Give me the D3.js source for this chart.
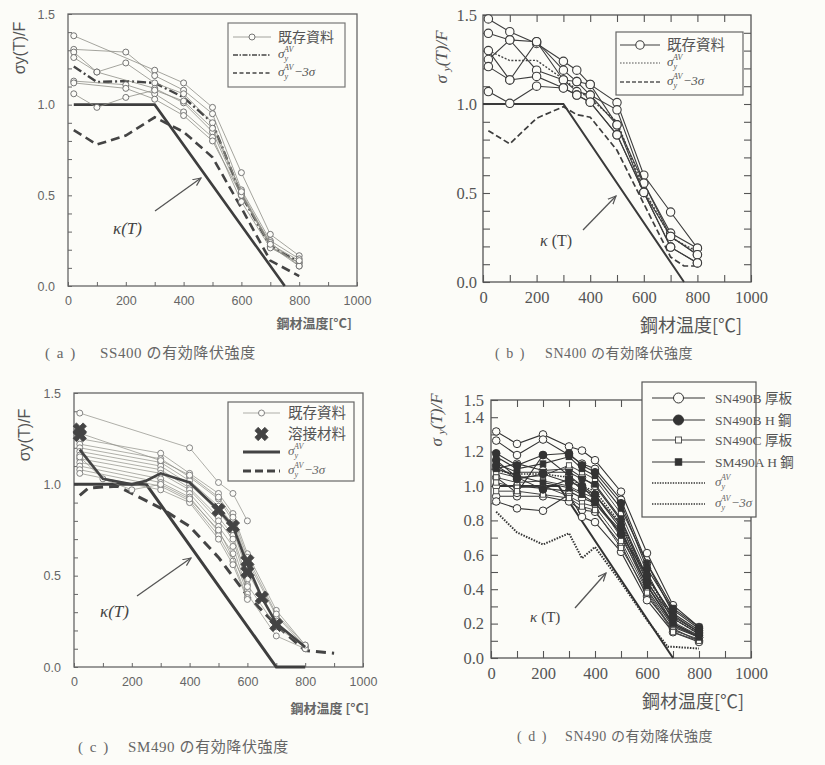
<!DOCTYPE html>
<html>
<head>
<meta charset="utf-8">
<script src="https://cdn.jsdelivr.net/npm/d3@7"></script>
<style>
  body { margin: 0; background: #fcfcf8; }
  svg { display: block; }
</style>
</head>
<body>
<script>
// ---------- (a) SS400 ----------
var tempsA = [20, 100, 200, 300, 400, 500, 600, 700, 800];
var existingA = [
  [1.38, null, null, 1.19, 1.12, 0.985, 0.625, 0.285, 0.167],
  [1.305, null, 1.29, 1.16, 1.08, 0.95, 0.53, 0.25, 0.15],
  [1.29, 1.18, 1.23, 1.12, 1.06, 0.90, 0.51, 0.22, 0.125],
  [1.26, 1.18, null, 1.09, 1.01, 0.85, 0.50, 0.22, 0.11],
  [1.13, null, 1.11, 1.06, 0.96, 0.82, 0.465, 0.21, 0.13],
  [1.12, null, 1.09, 1.03, 0.94, 0.80, 0.50, 0.24, 0.11],
  [1.06, 0.985, 1.04, 1.08, 1.02, 0.87, 0.52, 0.23, 0.14]
];
var avgA = [1.21, 1.125, 1.13, 1.12, 1.04, 0.90, 0.50, 0.22, 0.13];
var minusA = [0.86, 0.78, 0.83, 0.93, 0.85, 0.71, 0.43, 0.14, 0.055];
var kappaTempsA = [20, 300, 750];
var kappaA = [1, 1, 0];

// ---------- (b) SN400 ----------
var tempsB = [20, 100, 200, 300, 350, 400, 500, 600, 700, 800];
var existingB = [
  [1.478, 1.406, 1.34, 1.24, 1.19, 1.11, 1.008, 0.60, 0.393, 0.19],
  [1.397, 1.36, 1.35, 1.19, 1.126, 1.05, 0.967, 0.555, 0.275, 0.19],
  [1.30, 1.135, 1.35, 1.135, 1.07, 1.05, 0.883, 0.555, 0.256, 0.153],
  [1.25, 1.36, 1.19, 1.135, 1.126, 1.11, 0.883, 0.503, 0.256, 0.153],
  [1.21, 1.135, 1.155, 1.09, 1.05, 1.01, 0.827, 0.503, 0.196, 0.107],
  [1.07, 1.004, 1.10, 1.09, 1.05, 1.01, 0.827, 0.503, 0.196, 0.107]
];
var avgB = [1.30, 1.244, 1.245, 1.14, 1.08, 1.03, 0.90, 0.52, 0.25, 0.17];
var minusTempsB = [20, 100, 200, 300, 350, 400, 500, 600, 700, 750, 800];
var minusB = [0.85, 0.776, 0.92, 0.985, 0.94, 0.926, 0.74, 0.44, 0.14, 0.09, 0.09];
var kappaTempsB = [0, 300, 750];
var kappaB = [1, 1, 0];

// ---------- (c) SM490 ----------
var tempsC = [20, 100, 200, 300, 400, 500, 550, 600, 700, 800];
var existingC = [
  [1.39, null, null, null, 1.20, 1.01, 0.95, 0.80, null, null],
  [1.25, null, null, 1.17, 1.06, 0.95, 0.84, 0.62, 0.31, 0.12],
  [1.22, null, null, 1.14, 1.04, 0.92, 0.80, 0.58, 0.28, 0.11],
  [1.20, null, null, 1.12, 1.02, 0.88, 0.78, 0.55, null, null],
  [1.18, null, null, 1.10, 1.00, 0.85, 0.75, 0.52, 0.24, 0.10],
  [1.16, null, null, 1.08, 0.98, 0.82, 0.72, 0.48, null, null],
  [1.14, null, null, 1.06, 0.97, 0.80, 0.70, 0.45, 0.22, 0.11],
  [1.12, null, null, 1.03, 0.95, 0.77, 0.66, 0.42, null, null],
  [1.10, null, null, 1.01, 0.93, 0.74, 0.62, 0.40, 0.17, 0.10],
  [1.08, null, null, 0.99, 0.91, 0.72, 0.58, 0.38, null, null],
  [1.06, null, null, 0.97, 0.90, 0.70, 0.56, 0.37, null, null],
  [1.15, 1.03, 0.97, 1.00, 0.92, 0.75, null, 0.44, null, null],
  [1.28, null, null, 1.13, 1.05, 0.93, 0.82, 0.60, 0.29, 0.12]
];
var weldTempsC = [20, 20, 500, 550, 600, 600, 650, 700];
var weldC = [1.30, 1.27, 0.86, 0.77, 0.58, 0.52, 0.38, 0.23];
var avgTempsC = [20, 100, 200, 250, 300, 400, 500, 550, 600, 650, 700, 800];
var avgC = [1.19, 1.03, 1.0, 1.02, 1.06, 1.01, 0.86, 0.77, 0.56, 0.38, 0.24, 0.11];
var minusTempsC = [20, 50, 150, 200, 300, 400, 500, 600, 700, 800, 900];
var minusC = [0.94, 0.98, 0.99, 0.95, 0.87, 0.77, 0.60, 0.39, 0.23, 0.09, 0.075];
var kappaTempsC = [0, 250, 700, 800];
var kappaC = [1, 1, 0, 0];

// ---------- (d) SN490 ----------
var tempsD = [20, 100, 200, 300, 350, 400, 500, 600, 700, 800];
var plateB = [   // SN490B 厚板
  [1.317, 1.245, 1.30, 1.23, 1.206, 1.15, 0.967, 0.61, 0.307, 0.18],
  [1.264, 1.18, 1.27, 1.18, 1.13, 1.10, 0.92, 0.55, 0.26, 0.16],
  [1.10, 1.13, 1.09, 1.10, 1.05, 1.00, 0.80, 0.45, 0.20, 0.13],
  [1.00, 1.00, 0.986, 0.97, 0.93, 0.90, 0.72, 0.40, 0.18, 0.12],
  [0.94, 0.94, 0.94, 0.91, 0.86, 0.85, 0.66, 0.36, 0.17, 0.10],
  [0.91, 0.87, 0.856, 0.95, 0.82, 0.79, 0.617, 0.336, 0.15, 0.093],
  [1.05, 0.96, 1.18, 1.06, 1.00, 0.95, 0.75, 0.42, 0.19, 0.12]
];
var hBeamB = [   // SN490B H鋼
  [1.19, 1.12, 1.18, 1.19, 1.12, 1.08, 0.90, 0.52, 0.28, 0.17],
  [1.15, 1.05, 0.98, 1.04, 0.98, 0.95, 0.77, 0.44, 0.23, 0.14],
  [1.12, 1.04, 1.07, 1.02, 1.00, 0.92, 0.72, 0.48, 0.24, 0.15]
];
var plateC = [   // SN490C 厚板
  [1.08, 1.05, 1.06, 1.12, 1.08, 1.04, 0.84, 0.50, 0.21, 0.13],
  [1.05, 1.02, 1.03, 1.00, 0.96, 0.93, 0.70, 0.43, 0.19, 0.12],
  [1.02, 0.99, 1.00, 0.94, 0.90, 0.88, 0.68, 0.39, 0.16, 0.11],
  [0.97, 0.97, 0.95, 0.93, 0.88, 0.86, 0.64, 0.38, 0.15, 0.10]
];
var hBeamA = [   // SM490A H鋼
  [1.17, 1.10, 1.13, 1.17, 1.10, 1.06, 0.87, 0.55, 0.29, 0.18],
  [1.13, 1.08, 1.08, 1.08, 1.04, 1.01, 0.81, 0.47, 0.25, 0.15],
  [1.10, 1.06, 1.02, 0.99, 0.95, 0.90, 0.74, 0.42, 0.20, 0.12]
];
var avgD = [1.09, 1.07, 1.07, 1.05, 1.00, 0.97, 0.78, 0.47, 0.23, 0.14];
var minusTempsD = [20, 100, 200, 300, 350, 400, 500, 600, 680, 700, 800];
var minusD = [0.85, 0.73, 0.66, 0.725, 0.58, 0.645, 0.44, 0.22, 0.065, 0.065, 0.055];
var kappaTempsD = [20, 260, 700];
var kappaD = [1, 1, 0];

// ---------- drawing ----------
var BG = '#fcfcf8';
var SANS = '"Liberation Sans", Arial, "Noto Sans CJK JP", sans-serif';
var SERIF = '"Liberation Serif", "DejaVu Serif", "Noto Sans CJK JP", serif';
var CJK = '"Noto Sans CJK JP", sans-serif';

var svg = d3.select('body').append('svg')
  .attr('width', 825)
  .attr('height', 765);

svg.append('defs').append('marker')
  .attr('id', 'arrow')
  .attr('viewBox', '0 -5 10 10')
  .attr('refX', 9)
  .attr('markerWidth', 9)
  .attr('markerHeight', 9)
  .attr('markerUnits', 'userSpaceOnUse')
  .attr('orient', 'auto')
  .append('path')
    .attr('d', 'M0,-4L9,0L0,4')
    .attr('fill', 'none')
    .attr('stroke', '#555')
    .attr('stroke-width', 1.3);

function pairs(ts, vs) {
  return ts.map((t, i) => [t, vs[i]]).filter(p => p[1] != null);
}

function frame(cfg) {
  var g = svg.append('g');
  var x = d3.scaleLinear().domain([0, 1000]).range([cfg.left, cfg.right]);
  var y = d3.scaleLinear().domain([0, 1.5]).range([cfg.bottom, cfg.top]);
  var xt = d3.range(0, 11).map(v => v * 100);
  var yt = d3.range(0, 16).map(v => v / 10);

  g.append('g')
    .attr('transform', `translate(0,${cfg.bottom})`)
    .call(d3.axisBottom(x).tickValues(xt).tickSize(-cfg.tick).tickPadding(cfg.xpad)
      .tickFormat(v => v % 200 === 0 ? String(v) : ''));
  g.append('g')
    .attr('transform', `translate(${cfg.left},0)`)
    .call(d3.axisLeft(y).tickValues(yt).tickSize(-cfg.tick).tickPadding(cfg.ypad)
      .tickFormat(v => cfg.ylabels.some(l => Math.abs(l - v) < 1e-6) ? v.toFixed(1) : ''));
  if (cfg.allSides) {
    g.append('g')
      .attr('transform', `translate(0,${cfg.top})`)
      .call(d3.axisTop(x).tickValues(xt.slice(1, -1)).tickSize(-cfg.tick).tickFormat(''));
    g.append('g')
      .attr('transform', `translate(${cfg.right},0)`)
      .call(d3.axisRight(y).tickValues(yt.slice(1, -1)).tickSize(-cfg.tick).tickFormat(''));
  }
  g.selectAll('.domain').remove();
  g.selectAll('.tick line').attr('stroke', cfg.axisColor).attr('stroke-width', cfg.tickWidth);
  g.selectAll('.tick text')
    .attr('font-family', cfg.font)
    .attr('font-size', cfg.fontSize)
    .attr('fill', cfg.textColor);

  g.append('rect')
    .attr('x', cfg.left).attr('y', cfg.top)
    .attr('width', cfg.right - cfg.left).attr('height', cfg.bottom - cfg.top)
    .attr('fill', 'none')
    .attr('stroke', cfg.axisColor)
    .attr('stroke-width', cfg.boxWidth);

  var plot = g.append('g');
  return { g: g, plot: plot, x: x, y: y };
}

function drawMarkers(g, pts, x, y, st) {
  if (!st.marker) return;
  var m = g.append('g');
  if (st.marker === 'circle' || st.marker === 'dot') {
    m.selectAll('circle').data(pts).enter().append('circle')
      .attr('cx', d => x(d[0])).attr('cy', d => y(d[1]))
      .attr('r', st.r)
      .attr('fill', st.marker === 'dot' ? st.mcolor : BG)
      .attr('stroke', st.mcolor)
      .attr('stroke-width', st.mwidth);
  } else if (st.marker === 'square' || st.marker === 'fsquare') {
    m.selectAll('rect').data(pts).enter().append('rect')
      .attr('x', d => x(d[0]) - st.r).attr('y', d => y(d[1]) - st.r)
      .attr('width', st.r * 2).attr('height', st.r * 2)
      .attr('fill', st.marker === 'fsquare' ? st.mcolor : BG)
      .attr('stroke', st.mcolor)
      .attr('stroke-width', st.mwidth);
  } else if (st.marker === 'cross') {
    m.selectAll('path').data(pts).enter().append('path')
      .attr('d', d3.symbol().type(d3.symbolCross).size(st.r * st.r))
      .attr('transform', d => `translate(${x(d[0])},${y(d[1])}) rotate(45)`)
      .attr('fill', st.mcolor)
      .attr('stroke', st.mcolor)
      .attr('stroke-width', 0.8);
  }
}

function series(p, ts, vs, st) {
  var pts = pairs(ts, vs);
  var line = d3.line().x(d => p.x(d[0])).y(d => p.y(d[1]));
  if (st.width > 0) {
    p.plot.append('path')
      .datum(pts)
      .attr('fill', 'none')
      .attr('stroke', st.color)
      .attr('stroke-width', st.width)
      .attr('stroke-dasharray', st.dash || null)
      .attr('d', line);
  }
  drawMarkers(p.plot, pts, p.x, p.y, st);
}

function sampleLine(g, x1, x2, yy, st) {
  if (st.width > 0) {
    g.append('line')
      .attr('x1', x1).attr('x2', x2).attr('y1', yy).attr('y2', yy)
      .attr('stroke', st.color)
      .attr('stroke-width', st.width)
      .attr('stroke-dasharray', st.dash || null);
  }
  drawMarkers(g, [[(x1 + x2) / 2, yy]], v => v, v => v, st);
}

function plainText(g, x, y, str, size, color, family, anchor) {
  return g.append('text')
    .attr('x', x).attr('y', y)
    .attr('font-family', family)
    .attr('font-size', size)
    .attr('fill', color)
    .attr('text-anchor', anchor || 'start')
    .text(str);
}

function sigmaLabel(g, x, y, size, color, suffix) {
  var t = g.append('text')
    .attr('x', x).attr('y', y)
    .attr('font-family', SERIF)
    .attr('font-size', size)
    .attr('fill', color)
    .attr('font-style', 'italic');
  t.append('tspan').text('σ');
  t.append('tspan').attr('font-size', size * 0.62).attr('dy', size * 0.25).text('y');
  t.append('tspan').attr('font-size', size * 0.62).attr('dx', -size * 0.3).attr('dy', -size * 0.72).text('AV');
  if (suffix) {
    t.append('tspan').attr('dy', size * 0.47).attr('dx', size * 0.1).attr('font-style', 'normal').text('−');
    t.append('tspan').text('3σ');
  }
}

function legendBox(g, x1, y1, x2, y2, color) {
  g.append('rect')
    .attr('x', x1).attr('y', y1).attr('width', x2 - x1).attr('height', y2 - y1)
    .attr('fill', BG)
    .attr('stroke', color)
    .attr('stroke-width', 1.2);
}

function arrow(g, x1, y1, x2, y2) {
  g.append('line')
    .attr('x1', x1).attr('y1', y1).attr('x2', x2).attr('y2', y2)
    .attr('stroke', '#555')
    .attr('stroke-width', 1.3)
    .attr('marker-end', 'url(#arrow)');
}

function kappaText(g, x, y, size, italic, gap) {
  var t = g.append('text')
    .attr('x', x).attr('y', y)
    .attr('font-family', SERIF)
    .attr('font-size', size)
    .attr('fill', '#444');
  t.append('tspan').attr('font-style', 'italic').text('κ');
  t.append('tspan').attr('font-style', italic ? 'italic' : 'normal').attr('dx', gap).text('(T)');
}

function yTitle(g, x, y, size, family, italic, spaced) {
  var t = g.append('text')
    .attr('transform', `translate(${x},${y}) rotate(-90)`)
    .attr('text-anchor', 'middle')
    .attr('font-family', family)
    .attr('font-size', size)
    .attr('fill', '#555')
    .attr('font-style', italic ? 'italic' : 'normal');
  t.append('tspan').text('σ');
  if (spaced) {
    t.append('tspan').attr('font-size', size * 0.65).attr('dx', 4).attr('dy', 3).text('y');
    t.append('tspan').attr('dy', -3).text('(T)/F');
  } else {
    t.append('tspan').text('y(T)/F');
  }
}

function caption(g, x1, x2, y, tag, str, size) {
  plainText(g, x1, y, tag, size, '#666', SERIF).attr('letter-spacing', 1.5);
  plainText(g, x2, y, str, size, '#666', SERIF).attr('letter-spacing', 0.6);
}

// ===== panel (a) =====
var pa = frame({ left: 68, right: 357, top: 14, bottom: 286, tick: 4, xpad: 10, ypad: 13,
  ylabels: [0, 0.5, 1.0, 1.5], allSides: false, axisColor: '#666', tickWidth: 1, boxWidth: 1.3,
  font: SANS, fontSize: 12.5, textColor: '#666' });
var stExA = { color: '#8e8e86', width: 0.8, marker: 'circle', r: 3, mcolor: '#666', mwidth: 0.9 };
var stAvgA = { color: '#444', width: 2.4, dash: '9,3,2,3' };
var stMinA = { color: '#444', width: 2.6, dash: '9,5' };
var stKapA = { color: '#3e3e3e', width: 2.6 };
series(pa, kappaTempsA, kappaA, stKapA);
series(pa, tempsA, minusA, stMinA);
series(pa, tempsA, avgA, stAvgA);
existingA.forEach(s => series(pa, tempsA, s, stExA));
legendBox(pa.g, 228, 23, 345, 87, '#777');
sampleLine(pa.g, 233, 271, 37, stExA);
plainText(pa.g, 278, 42, '既存資料', 14, '#555', CJK);
sampleLine(pa.g, 233, 271, 55, { color: '#444', width: 1.6, dash: '5,1.5,1.5,1.5' });
sigmaLabel(pa.g, 278, 58, 13, '#555', false);
sampleLine(pa.g, 233, 271, 73, { color: '#444', width: 1.6, dash: '4,2.5' });
sigmaLabel(pa.g, 278, 76, 13, '#555', true);
arrow(pa.g, 155, 211, 201, 178);
kappaText(pa.g, 113, 234, 17, true, 0);
yTitle(pa.g, 25, 48, 16, SANS, false, false);
plainText(pa.g, 352, 328, '鋼材温度[°C]', 13, '#666', CJK, 'end').attr('font-weight', 'bold');
caption(pa.g, 45, 100, 358, '( a )', 'SS400 の有効降伏強度', 15);

// ===== panel (b) =====
var pb = frame({ left: 483, right: 751, top: 15, bottom: 282, tick: 7, xpad: 9, ypad: 6,
  ylabels: [0, 0.5, 1.0, 1.5], allSides: true, axisColor: '#555', tickWidth: 1.1, boxWidth: 1.3,
  font: SERIF, fontSize: 16.5, textColor: '#555' });
var stExB = { color: '#3d3d3d', width: 1.1, marker: 'circle', r: 4.2, mcolor: '#3d3d3d', mwidth: 1.1 };
var stAvgB = { color: '#444', width: 1.4, dash: '2,1.6' };
var stMinB = { color: '#3d3d3d', width: 1.7, dash: '6,3' };
var stKapB = { color: '#3a3a3a', width: 2 };
series(pb, kappaTempsB, kappaB, stKapB);
series(pb, minusTempsB, minusB, stMinB);
series(pb, tempsB, avgB, stAvgB);
existingB.forEach(s => series(pb, tempsB, s, stExB));
legendBox(pb.g, 616, 32, 743, 95, '#666');
sampleLine(pb.g, 620, 660, 45, stExB);
plainText(pb.g, 667, 50, '既存資料', 14.5, '#555', CJK);
sampleLine(pb.g, 620, 660, 63, { color: '#555', width: 1.2, dash: '1.6,1.4' });
sigmaLabel(pb.g, 667, 66, 13, '#555', false);
sampleLine(pb.g, 620, 660, 82, { color: '#555', width: 1.3, dash: '4,2' });
sigmaLabel(pb.g, 667, 85, 13, '#555', true);
arrow(pb.g, 583, 230, 616, 196);
kappaText(pb.g, 540, 246, 16, false, 4);
yTitle(pb.g, 447, 57, 17, SERIF, true, true);
plainText(pb.g, 691, 332, '鋼材温度[℃]', 18, '#555', CJK, 'middle');
caption(pb.g, 495, 545, 358, '( b )', 'SN400 の有効降伏強度', 14);

// ===== panel (c) =====
var pc = frame({ left: 74, right: 363, top: 393, bottom: 667, tick: 4, xpad: 10, ypad: 13,
  ylabels: [0, 0.5, 1.0, 1.5], allSides: false, axisColor: '#666', tickWidth: 1, boxWidth: 1.3,
  font: SANS, fontSize: 12.5, textColor: '#666' });
var stExC = { color: '#8e8e86', width: 0.7, marker: 'circle', r: 3, mcolor: '#777', mwidth: 0.9 };
var stWeldC = { width: 0, marker: 'cross', r: 10.5, mcolor: '#444' };
var stAvgC = { color: '#444', width: 2.6 };
var stMinC = { color: '#444', width: 3, dash: '10,6' };
var stKapC = { color: '#3e3e3e', width: 3 };
series(pc, kappaTempsC, kappaC, stKapC);
series(pc, minusTempsC, minusC, stMinC);
existingC.forEach(s => series(pc, tempsC, s, stExC));
series(pc, avgTempsC, avgC, stAvgC);
series(pc, weldTempsC, weldC, stWeldC);
legendBox(pc.g, 228, 402, 354, 481, '#666');
sampleLine(pc.g, 243, 280, 413, stExC);
plainText(pc.g, 288, 418, '既存資料', 14.5, '#555', CJK);
sampleLine(pc.g, 243, 280, 434, stWeldC);
plainText(pc.g, 288, 439, '溶接材料', 14.5, '#555', CJK);
sampleLine(pc.g, 243, 280, 452, { color: '#444', width: 3 });
sigmaLabel(pc.g, 288, 455, 13, '#666', false);
sampleLine(pc.g, 243, 280, 471, { color: '#444', width: 3.2, dash: '8,4' });
sigmaLabel(pc.g, 288, 474, 13, '#666', true);
arrow(pc.g, 137, 596, 191, 558);
kappaText(pc.g, 100, 617, 17, true, 0);
yTitle(pc.g, 30, 435, 16, SANS, false, false);
plainText(pc.g, 369, 713, '鋼材温度 [°C]', 13, '#666', CJK, 'end').attr('font-weight', 'bold');
caption(pc.g, 78, 128, 752, '( c )', 'SM490 の有効降伏強度', 15);

// ===== panel (d) =====
var pd = frame({ left: 491, right: 751, top: 400, bottom: 658, tick: 7, xpad: 9, ypad: 7,
  ylabels: [0, 0.2, 0.4, 0.6, 0.8, 1.0, 1.2, 1.4, 1.5], allSides: true, axisColor: '#555', tickWidth: 1.1,
  boxWidth: 1.3, font: SERIF, fontSize: 16.5, textColor: '#555' });
var stPlateB = { color: '#333', width: 1.1, marker: 'circle', r: 3.8, mcolor: '#333', mwidth: 1 };
var stHBeamB = { color: '#333', width: 1.1, marker: 'dot', r: 3.8, mcolor: '#333', mwidth: 1 };
var stPlateC = { color: '#444', width: 1, marker: 'square', r: 2.6, mcolor: '#444', mwidth: 0.9 };
var stHBeamA = { color: '#333', width: 1.1, marker: 'fsquare', r: 2.8, mcolor: '#333', mwidth: 1 };
var stAvgD = { color: '#333', width: 1.5, dash: '1.5,1.3' };
var stMinD = { color: '#333', width: 2, dash: '1.5,1.3' };
var stKapD = { color: '#333', width: 2 };
series(pd, kappaTempsD, kappaD, stKapD);
series(pd, minusTempsD, minusD, stMinD);
series(pd, tempsD, avgD, stAvgD);
plateB.forEach(s => series(pd, tempsD, s, stPlateB));
plateC.forEach(s => series(pd, tempsD, s, stPlateC));
hBeamA.forEach(s => series(pd, tempsD, s, stHBeamA));
hBeamB.forEach(s => series(pd, tempsD, s, stHBeamB));
legendBox(pd.g, 642, 382, 756, 517, '#555');
var stLegPB = Object.assign({}, stPlateB, { r: 5 });
var stLegHB = Object.assign({}, stHBeamB, { r: 5 });
var stLegPC = Object.assign({}, stPlateC, { r: 3 });
var stLegHA = Object.assign({}, stHBeamA, { r: 3.2 });
sampleLine(pd.g, 652, 705, 398, stLegPB);
plainText(pd.g, 715, 403, 'SN490B 厚板', 13.5, '#555', SERIF);
sampleLine(pd.g, 652, 705, 420, stLegHB);
plainText(pd.g, 715, 425, 'SN490B H 鋼', 13.5, '#555', SERIF);
sampleLine(pd.g, 652, 705, 440, stLegPC);
plainText(pd.g, 715, 445, 'SN490C 厚板', 13.5, '#555', SERIF);
sampleLine(pd.g, 652, 705, 462, stLegHA);
plainText(pd.g, 715, 467, 'SM490A H 鋼', 13.5, '#555', SERIF);
sampleLine(pd.g, 652, 705, 483, { color: '#333', width: 1.6, dash: '1.4,1.2' });
sigmaLabel(pd.g, 715, 486, 13, '#666', false);
sampleLine(pd.g, 652, 705, 504, { color: '#333', width: 1.6, dash: '1.4,1.2' });
sigmaLabel(pd.g, 715, 507, 13, '#666', true);
arrow(pd.g, 575, 608, 606, 573);
kappaText(pd.g, 530, 622, 15, false, 4);
yTitle(pd.g, 442, 420, 17, SERIF, true, true);
plainText(pd.g, 693, 708, '鋼材温度[℃]', 18, '#555', CJK, 'middle');
caption(pd.g, 517, 565, 741, '( d )', 'SN490 の有効降伏強度', 14);
</script>
</body>
</html>
